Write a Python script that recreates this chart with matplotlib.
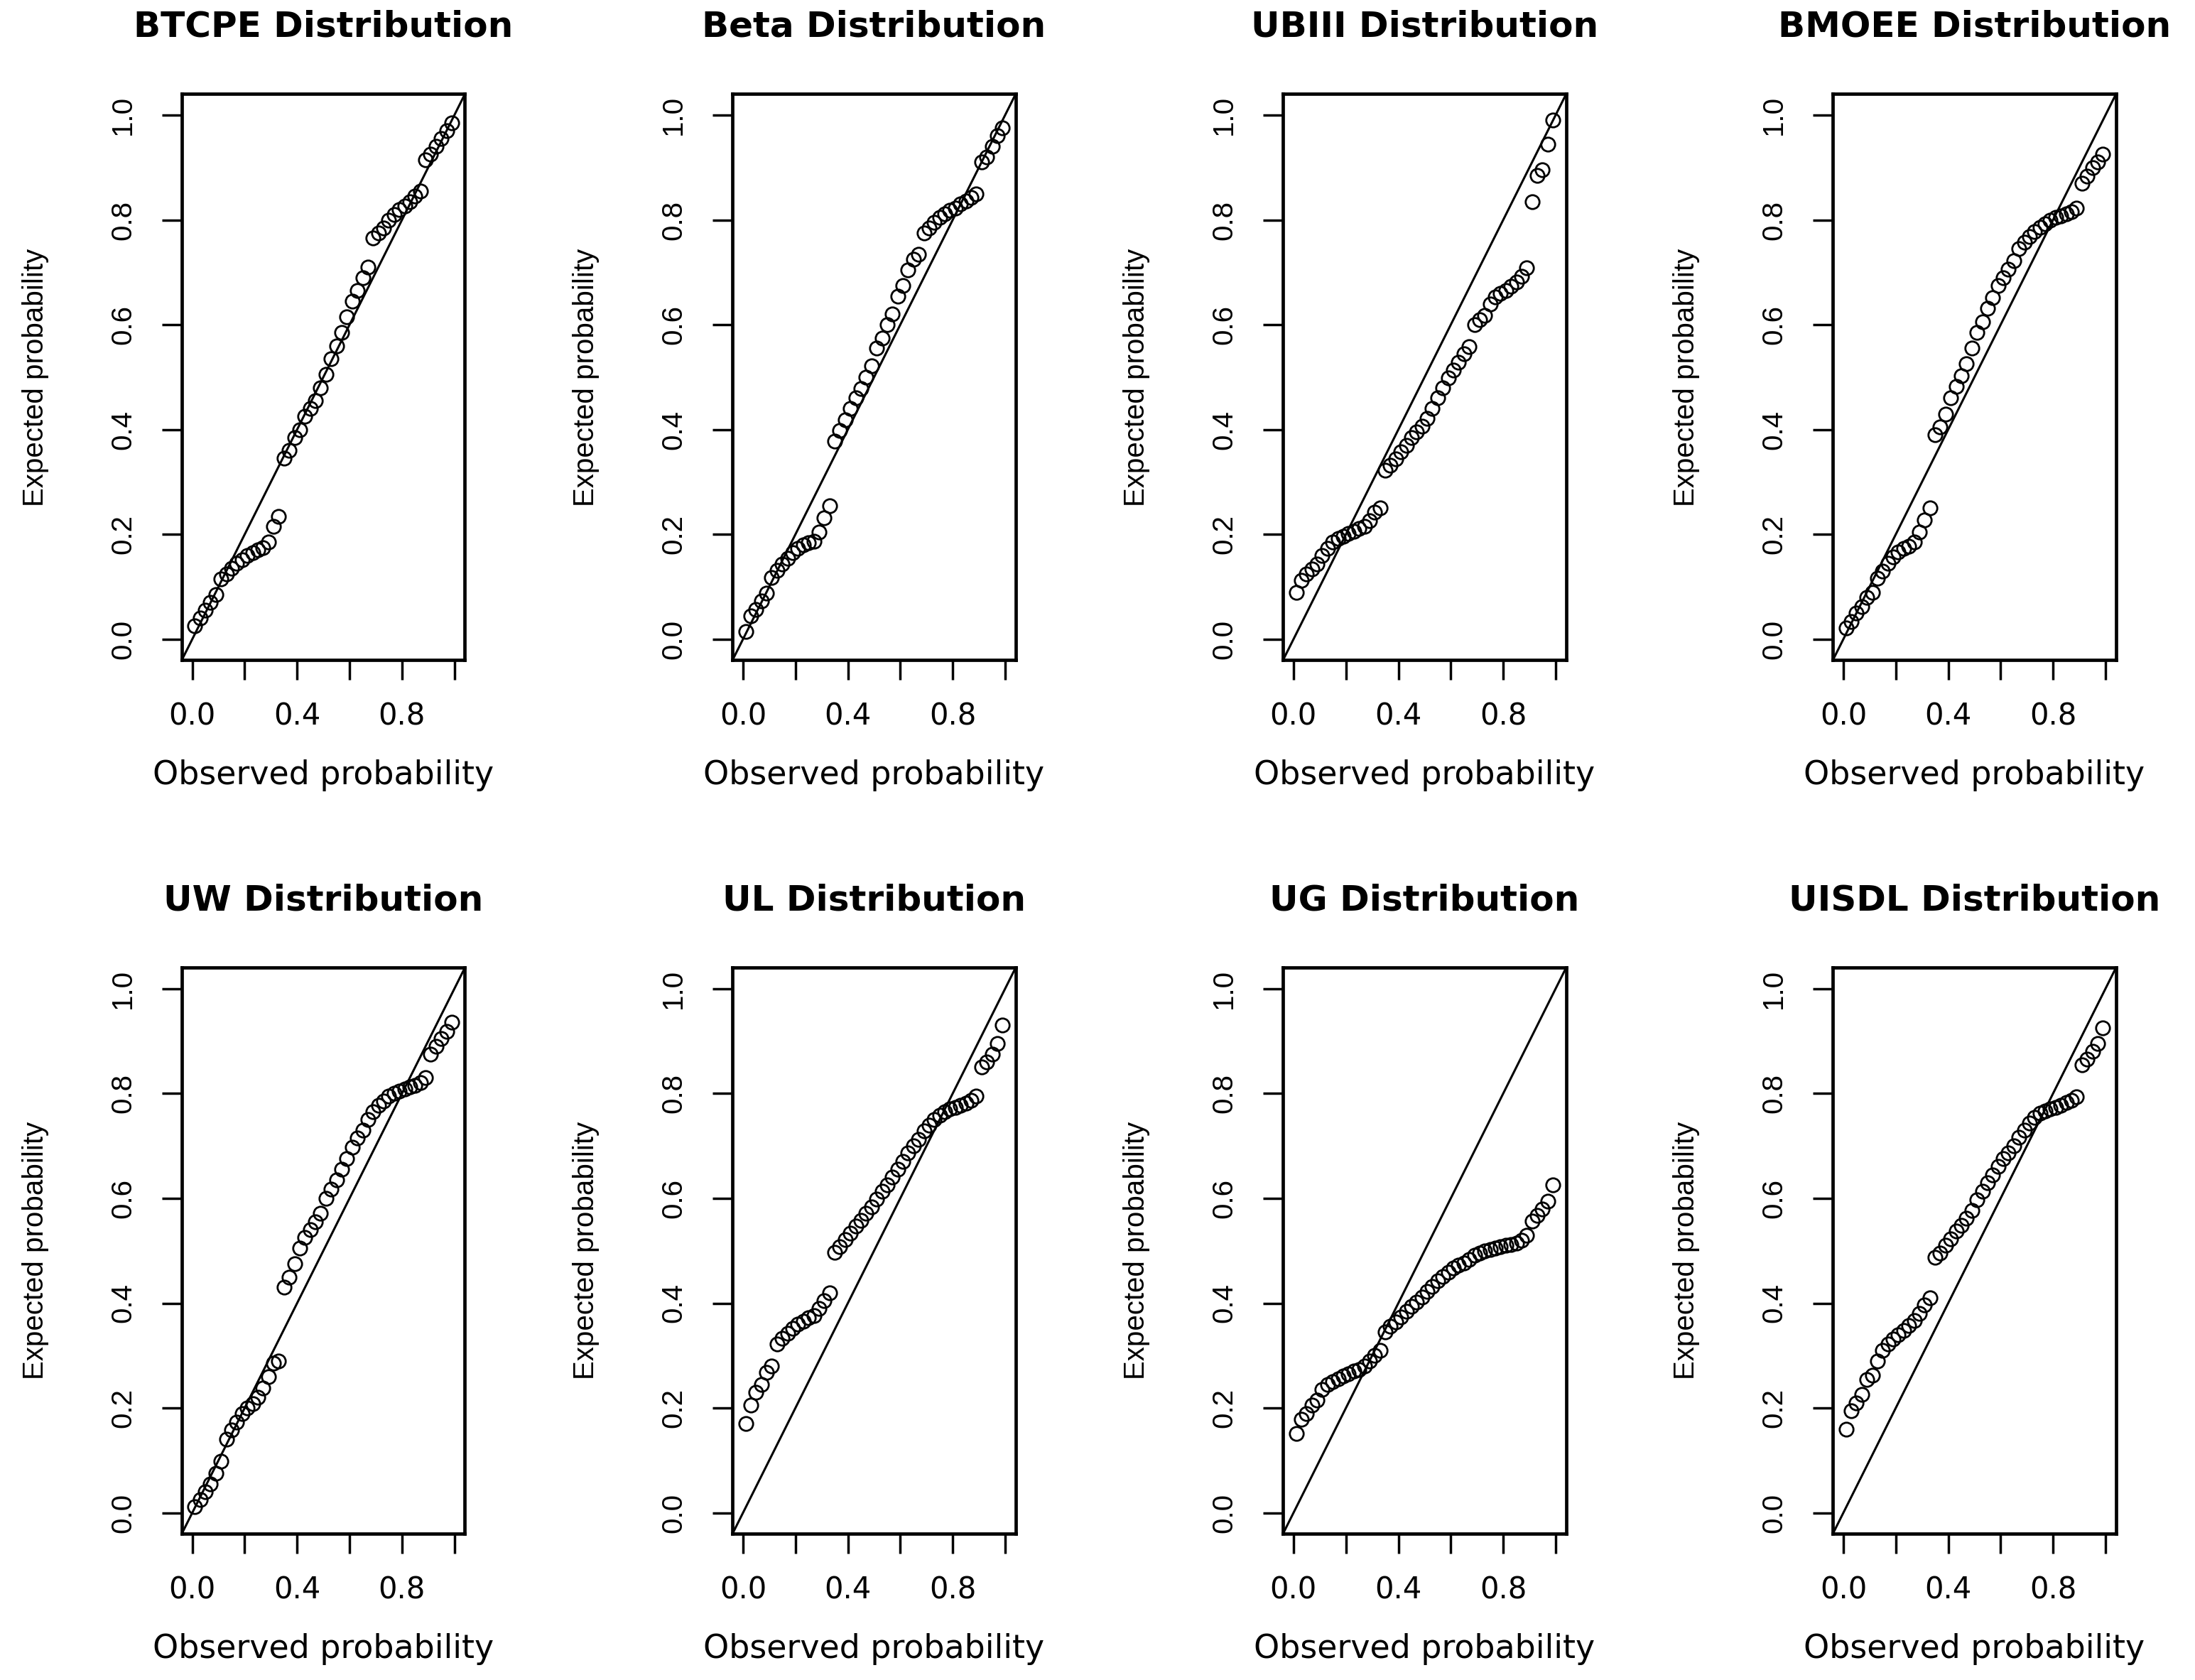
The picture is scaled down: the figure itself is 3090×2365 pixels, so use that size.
import matplotlib
matplotlib.use("Agg")
import matplotlib.pyplot as plt

titles = ["BTCPE Distribution", "Beta Distribution", "UBIII Distribution", "BMOEE Distribution",
          "UW Distribution", "UL Distribution", "UG Distribution", "UISDL Distribution"]

# observed (empirical) probabilities, shared by all panels
observed = [0.01, 0.03, 0.05, 0.07, 0.09, 0.11, 0.13, 0.15, 0.17, 0.19,
            0.21, 0.23, 0.25, 0.27, 0.29, 0.31, 0.33, 0.35, 0.37, 0.39,
            0.41, 0.43, 0.45, 0.47, 0.49, 0.51, 0.53, 0.55, 0.57, 0.59,
            0.61, 0.63, 0.65, 0.67, 0.69, 0.71, 0.73, 0.75, 0.77, 0.79,
            0.81, 0.83, 0.85, 0.87, 0.89, 0.91, 0.93, 0.95, 0.97, 0.99]

btcpe = [0.025, 0.04, 0.055, 0.07, 0.085, 0.115, 0.125, 0.135, 0.145, 0.152,
         0.16, 0.165, 0.17, 0.175, 0.185, 0.215, 0.235, 0.345, 0.36, 0.385,
         0.40, 0.425, 0.44, 0.455, 0.48, 0.505, 0.535, 0.56, 0.585, 0.615,
         0.645, 0.665, 0.69, 0.71, 0.765, 0.775, 0.785, 0.80, 0.81, 0.82,
         0.827, 0.835, 0.845, 0.855, 0.915, 0.925, 0.94, 0.955, 0.97, 0.985]

beta = [0.015, 0.045, 0.057, 0.073, 0.088, 0.118, 0.132, 0.143, 0.155, 0.165,
        0.174, 0.18, 0.184, 0.187, 0.205, 0.232, 0.255, 0.378, 0.398, 0.418,
        0.44, 0.46, 0.478, 0.50, 0.522, 0.555, 0.575, 0.60, 0.62, 0.655,
        0.675, 0.705, 0.725, 0.735, 0.775, 0.785, 0.796, 0.805, 0.812, 0.818,
        0.823, 0.83, 0.836, 0.843, 0.85, 0.91, 0.92, 0.94, 0.96, 0.975]

ubiii = [0.09, 0.112, 0.125, 0.134, 0.144, 0.16, 0.174, 0.185, 0.192, 0.197,
         0.202, 0.206, 0.211, 0.216, 0.226, 0.242, 0.25, 0.322, 0.332, 0.344,
         0.358, 0.37, 0.385, 0.395, 0.407, 0.422, 0.44, 0.46, 0.48, 0.498,
         0.513, 0.528, 0.544, 0.558, 0.60, 0.61, 0.618, 0.64, 0.653, 0.66,
         0.665, 0.674, 0.682, 0.692, 0.708, 0.835, 0.885, 0.895, 0.945, 0.99]

bmoee = [0.022, 0.034, 0.05, 0.062, 0.08, 0.09, 0.117, 0.13, 0.145, 0.157,
         0.166, 0.173, 0.177, 0.185, 0.205, 0.228, 0.25, 0.39, 0.405, 0.43,
         0.46, 0.482, 0.503, 0.525, 0.555, 0.585, 0.605, 0.632, 0.652, 0.675,
         0.69, 0.706, 0.722, 0.745, 0.757, 0.768, 0.778, 0.786, 0.792, 0.80,
         0.805, 0.808, 0.812, 0.816, 0.822, 0.87, 0.884, 0.90, 0.91, 0.926]

uw = [0.012, 0.025, 0.04, 0.055, 0.075, 0.098, 0.14, 0.158, 0.173, 0.19,
      0.20, 0.208, 0.22, 0.238, 0.26, 0.285, 0.29, 0.43, 0.45, 0.475,
      0.505, 0.525, 0.54, 0.555, 0.572, 0.60, 0.617, 0.635, 0.656, 0.676,
      0.697, 0.715, 0.73, 0.75, 0.765, 0.777, 0.786, 0.795, 0.80, 0.805,
      0.808, 0.812, 0.816, 0.821, 0.83, 0.875, 0.89, 0.905, 0.918, 0.936]

ul = [0.17, 0.205, 0.23, 0.245, 0.268, 0.28, 0.322, 0.333, 0.343, 0.352,
      0.36, 0.366, 0.372, 0.377, 0.39, 0.405, 0.42, 0.497, 0.508, 0.522,
      0.533, 0.547, 0.558, 0.572, 0.584, 0.598, 0.613, 0.625, 0.64, 0.655,
      0.67, 0.686, 0.70, 0.712, 0.728, 0.74, 0.75, 0.758, 0.765, 0.77,
      0.773, 0.777, 0.782, 0.787, 0.795, 0.85, 0.86, 0.875, 0.895, 0.93]

ug = [0.152, 0.178, 0.19, 0.205, 0.215, 0.236, 0.245, 0.25, 0.256, 0.261,
      0.265, 0.27, 0.274, 0.28, 0.29, 0.30, 0.31, 0.345, 0.356, 0.364,
      0.374, 0.385, 0.394, 0.402, 0.411, 0.422, 0.432, 0.443, 0.451, 0.459,
      0.467, 0.472, 0.477, 0.484, 0.492, 0.496, 0.50, 0.503, 0.505, 0.508,
      0.51, 0.512, 0.515, 0.52, 0.53, 0.556, 0.567, 0.58, 0.595, 0.625]

uisdl = [0.16, 0.195, 0.21, 0.226, 0.255, 0.263, 0.29, 0.31, 0.322, 0.332,
         0.34, 0.348, 0.357, 0.367, 0.38, 0.397, 0.41, 0.488, 0.495, 0.51,
         0.523, 0.538, 0.549, 0.562, 0.577, 0.597, 0.613, 0.63, 0.645, 0.661,
         0.676, 0.687, 0.70, 0.717, 0.73, 0.744, 0.754, 0.762, 0.767, 0.771,
         0.774, 0.778, 0.783, 0.787, 0.794, 0.855, 0.866, 0.88, 0.896, 0.925]

expected = [btcpe, beta, ubiii, bmoee, uw, ul, ug, uisdl]

xticks = [0.0, 0.2, 0.4, 0.6, 0.8, 1.0]
xticklabels = ["0.0", "", "0.4", "", "0.8", ""]
yticks = [0.0, 0.2, 0.4, 0.6, 0.8, 1.0]
yticklabels = ["0.0", "0.2", "0.4", "0.6", "0.8", "1.0"]

fig = plt.figure(figsize=(30.9, 23.65), dpi=100)
lefts = [0.0828, 0.3337, 0.5845, 0.835]
bottoms = [0.607, 0.087]
w, h = 0.129, 0.337

for k in range(8):
    ax = fig.add_axes([lefts[k % 4], bottoms[k // 4], w, h])
    ax.plot(observed, expected[k], 'o', mfc='none', mec='black', ms=14, mew=2.0)
    ax.axline((0, 0), (1, 1), color='black', lw=2.2)
    ax.set_xlim(-0.04, 1.04)
    ax.set_ylim(-0.04, 1.04)
    for s in ax.spines.values():
        s.set_linewidth(3.4)
    ax.set_xticks(xticks)
    ax.set_xticklabels(xticklabels, fontsize=30, family='DejaVu Sans')
    ax.set_yticks(yticks)
    ax.set_yticklabels(yticklabels, fontsize=29, family='Liberation Sans', rotation=90, va='center')
    ax.tick_params(axis='x', length=20, width=2.5, pad=22)
    ax.tick_params(axis='y', length=20, width=2.5, pad=26)
    ax.set_title(titles[k], fontsize=36, fontweight='bold', family='DejaVu Sans', pad=58)
    ax.set_xlabel("Observed probability", fontsize=33, family='DejaVu Sans')
    ax.set_ylabel("Expected probability", fontsize=29, family='Liberation Sans')
    ax.xaxis.set_label_coords(0.5, -0.175)
    ax.yaxis.set_label_coords(-0.47, 0.5)

fig.savefig("out.png", dpi=100)
